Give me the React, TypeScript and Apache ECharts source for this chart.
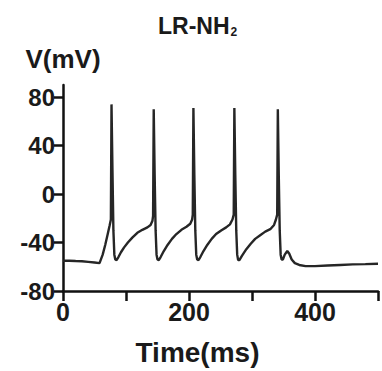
import React, { useEffect, useRef } from "react";
import * as echarts from "echarts";

// Membrane potential trace (time in ms, voltage in mV)
const timeMs: number[] = [
  0, 10, 20, 30, 40, 50, 58, 63, 67, 71, 74, 76,
  77, 78.5, 80, 81.5, 83, 85, 88, 92, 97, 103, 110, 118, 126, 134, 139, 142, 143,
  144, 145.5, 147, 148.5, 150, 152, 155, 160, 166, 173, 180, 188, 196, 202, 205, 206,
  207, 208.5, 210, 211.5, 213, 215, 218, 223, 229, 236, 243, 251, 259, 265, 269, 271,
  272, 273.5, 275, 276.5, 278, 280, 284, 291, 298, 305, 313, 321, 329, 335, 338, 340,
  341, 342.5, 344, 345.5, 347, 349, 352, 356, 359, 363, 368, 375, 385, 400, 420, 440, 460, 480, 500,
];
const voltageMv: number[] = [
  -55, -55, -55.3, -55.5, -56, -56.5, -57, -50, -42, -33, -26, -21,
  74, 20, -30, -50, -54, -54.5, -52, -48, -44, -40, -36, -32, -29.5, -27.5, -25.5, -22, -18,
  70, 15, -30, -50, -54, -54.5, -52, -47, -42, -37, -33, -29.5, -27, -24.5, -21, -17,
  71, 15, -30, -50, -54, -54.5, -52, -47, -42, -37, -33, -30, -27.5, -25, -21, -17,
  71, 15, -30, -50, -54.5, -54.5, -51, -45.5, -41, -37, -34, -31, -29, -25.5, -21, -17,
  70, 15, -30, -50, -54, -54, -50, -47, -49, -54, -57, -58.5, -59.5, -59.5, -59, -58.5, -58, -57.8, -57.5,
];
const yTickValues: number[] = [-80, -40, 0, 40, 80];
const xLabelValues: number[] = [0, 200, 400];

const FONT = "'Liberation Sans', Arial, sans-serif";

export default function App() {
  const ref = useRef<HTMLDivElement>(null);
  useEffect(() => {
    if (!ref.current) return;
    const chart = echarts.init(ref.current, undefined, { renderer: "svg" });
    const data = timeMs.map((t, i) => [t, voltageMv[i]]);
    chart.setOption({
      animation: false,
      backgroundColor: "#ffffff",
      title: {
        text: "{a|LR-NH}{b|2}",
        left: 153,
        top: 9,
        textStyle: {
          rich: {
            a: { fontFamily: FONT, fontWeight: "bold", fontSize: 23, color: "#1a1a1a" },
            b: { fontFamily: FONT, fontWeight: "bold", fontSize: 12, color: "#1a1a1a", padding: [12, 0, 0, 1] },
          },
        },
      },
      grid: { left: 63, right: 4, top: 85, bottom: 77, containLabel: false },
      xAxis: {
        type: "value",
        min: 0,
        max: 500,
        interval: 100,
        name: "Time(ms)",
        nameLocation: "middle",
        nameGap: 47,
        nameTextStyle: {
          fontFamily: FONT,
          fontWeight: "bold",
          fontSize: 28,
          color: "#1a1a1a",
          padding: [0, 46, 0, 0],
        },
        splitLine: { show: false },
        axisLine: { show: true, onZero: false, lineStyle: { color: "#111", width: 2.5 } },
        axisTick: { show: true, length: 10, lineStyle: { color: "#111", width: 2.5 } },
        axisLabel: {
          margin: 8,
          fontFamily: FONT,
          fontWeight: "bold",
          fontSize: 25,
          color: "#1a1a1a",
          formatter: (v: number) => (xLabelValues.includes(v) ? String(v) : ""),
        },
      },
      yAxis: {
        type: "value",
        min: -80,
        max: 90,
        interval: 40,
        name: "V(mV)",
        nameLocation: "end",
        nameGap: 13,
        nameTextStyle: {
          fontFamily: FONT,
          fontWeight: "bold",
          fontSize: 26,
          color: "#1a1a1a",
        },
        splitLine: { show: false },
        axisLine: { show: true, onZero: false, lineStyle: { color: "#111", width: 2.5 } },
        axisTick: { show: true, length: 9, customValues: yTickValues, lineStyle: { color: "#111", width: 2.5 } },
        axisLabel: {
          margin: 8,
          customValues: yTickValues,
          fontFamily: FONT,
          fontWeight: "bold",
          fontSize: 24,
          color: "#1a1a1a",
        },
      },
      series: [
        {
          type: "line",
          data,
          showSymbol: false,
          symbol: "none",
          lineStyle: { color: "#262626", width: 2.4 },
        },
      ],
    });
    return () => chart.dispose();
  }, []);
  return (
    <div
      ref={ref}
      style={{ position: "fixed", left: 0, top: 0, width: 382, height: 371 }}
    />
  );
}
